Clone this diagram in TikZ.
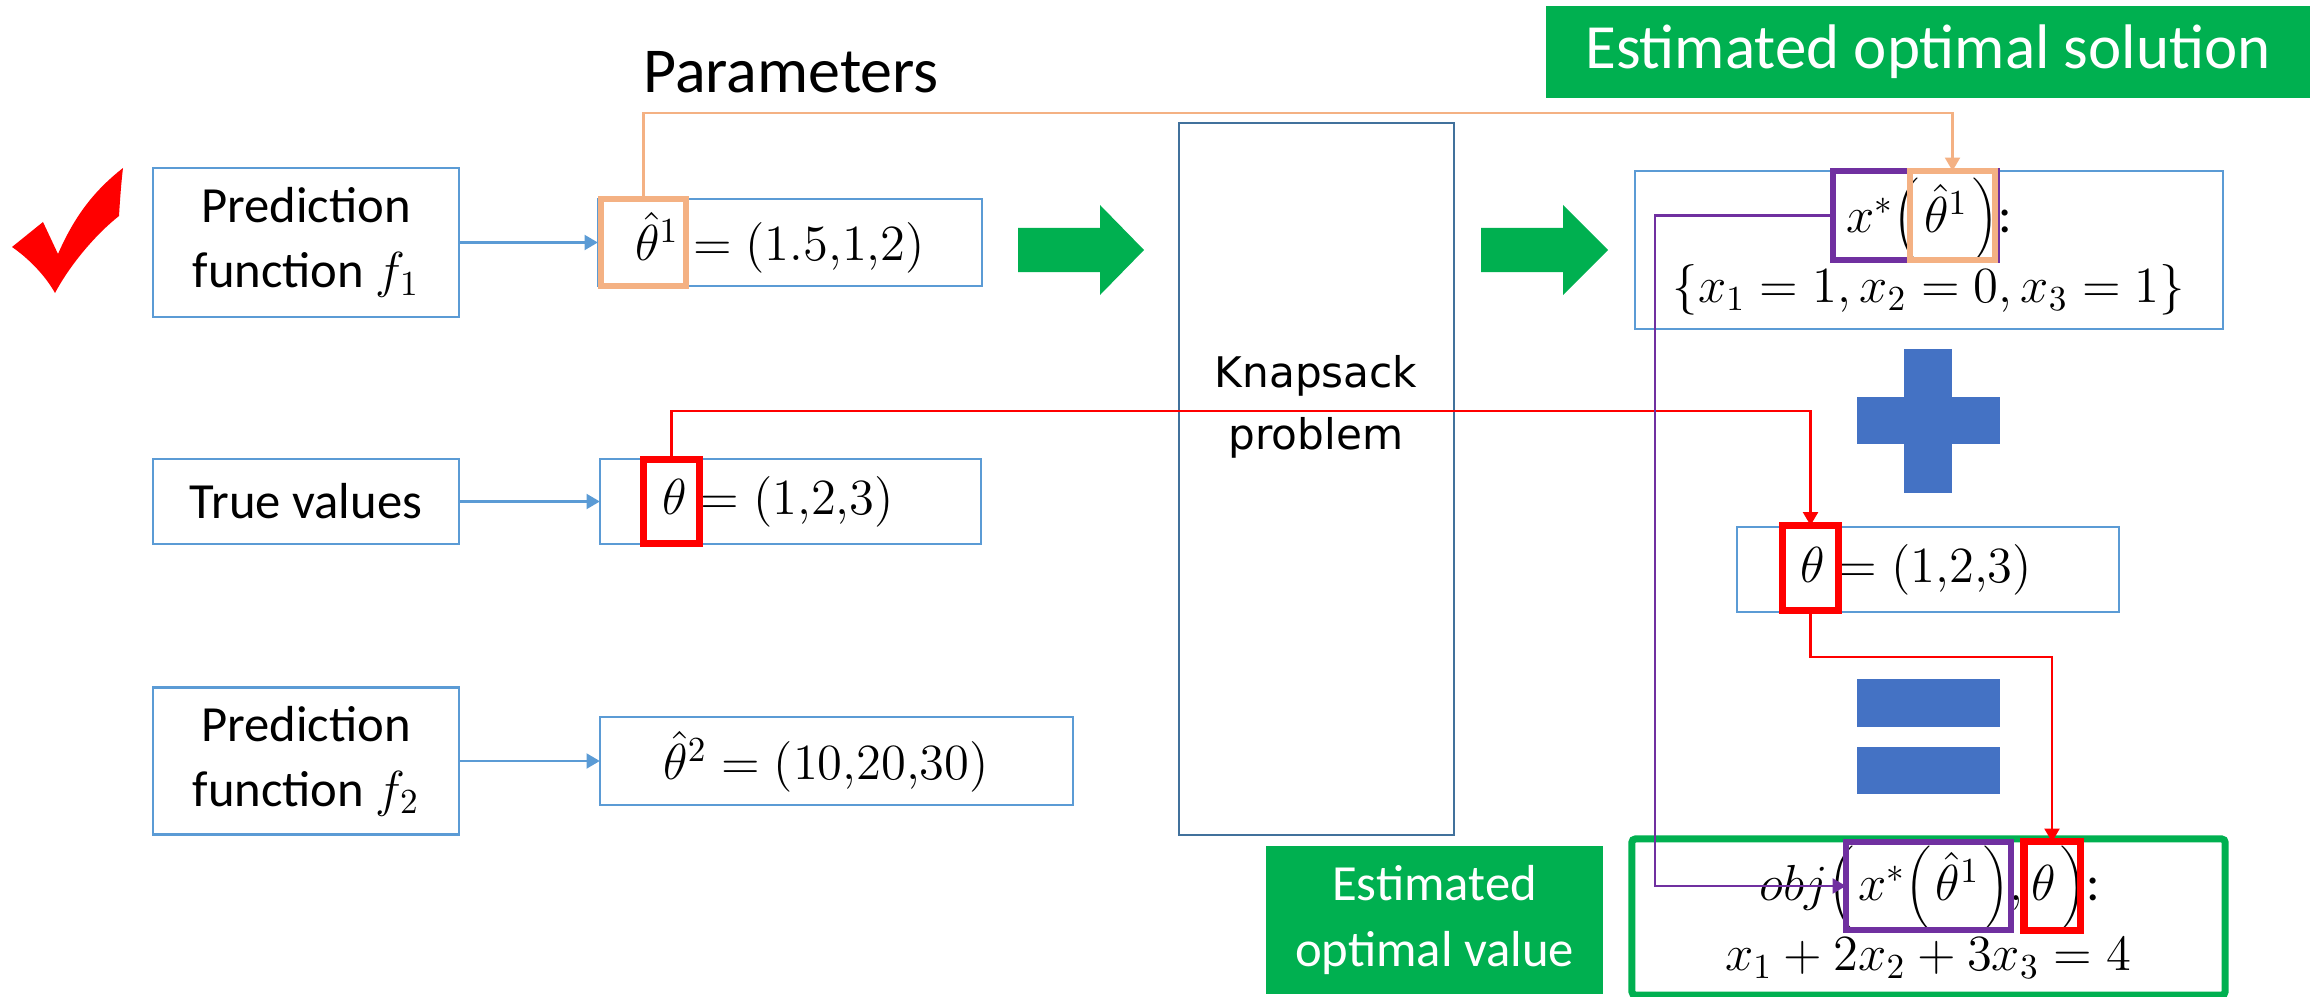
\documentclass[tikz,border=0pt]{standalone}
\usepackage[no-math]{fontspec}
\setmainfont{Carlito}
\newfontfamily\knapfont{DejaVu Sans}
\usetikzlibrary{arrows.meta}

\definecolor{boxblue}{HTML}{5B9BD5}
\definecolor{knapblue}{HTML}{41719C}
\definecolor{offgreen}{HTML}{00B050}
\definecolor{symblue}{HTML}{4472C4}
\definecolor{hlorange}{HTML}{F4B183}
\definecolor{hlpurple}{HTML}{7030A0}
\definecolor{hlred}{HTML}{FF0000}

% parentheses tall enough to enclose \hat\theta^1, spaced like ordinary ones
\newcommand\hopen{\mathopen{\left(\vphantom{\hat{\theta}^1}\right.}}
\newcommand\hclose{\mathclose{\left.\vphantom{\hat{\theta}^1}\right)}}

\begin{document}
\begin{tikzpicture}[x=0.01cm,y=-0.01cm,
  bluebox/.style={draw=boxblue,line width=0.7pt,inner sep=0pt,outer sep=0pt},
  txt/.style={font=\fontsize{14.4}{18.5}\selectfont,align=center,inner sep=0pt},
  hl/.style={line width=1.8pt,inner sep=0pt,outer sep=0pt},
  tip/.style={-{Triangle[length=3.8pt,width=4.2pt]}},
  bluearrow/.style={tip,draw=boxblue,line width=0.8pt},
  conn/.style={tip,line width=0.8pt},
  bigarrow/.style={fill=offgreen,draw=none},
  symbol/.style={fill=symblue,draw=none},
  greenlabel/.style={fill=offgreen,text=white,inner sep=0pt,outer sep=0pt,align=center}]

\useasboundingbox (0,0) rectangle (2318,997);

% check mark
\fill[hlred] (12,247) -- (43,222) -- (58,254)
  .. controls (75,215) and (95,190) .. (123,168)
  .. controls (121,185) and (120,200) .. (119,216)
  .. controls (95,235) and (70,265) .. (55,293)
  .. controls (45,275) and (28,258) .. (12,247) -- cycle;

% left column
\node[bluebox,txt,minimum width=3.06cm,minimum height=1.49cm] (pf1) at (306,242.5) {Prediction\\function $f_1$};
\node[bluebox,txt,minimum width=3.06cm,minimum height=0.85cm] (tv) at (306,501.5) {True values};
\node[bluebox,txt,minimum width=3.06cm,minimum height=1.47cm] (pf2) at (306,761) {Prediction\\function $f_2$};

% parameter boxes
\node[bluebox,minimum width=3.84cm,minimum height=0.87cm] (th1box) at (790,242.5) {};
\node[bluebox,minimum width=3.81cm,minimum height=0.85cm] (thbox) at (790.5,501.5) {};
\node[bluebox,minimum width=4.73cm,minimum height=0.88cm] (th2box) at (836.5,761) {};
\node[txt] (th1txt) at (780,243) {$\hat{\theta}^1 = (1.5{,}1{,}2)$};
\node[txt] (thtxt) at (778,502) {$\theta = (1{,}2{,}3)$};
\node[txt] (th2txt) at (826,762) {$\hat{\theta}^2 = (10{,}20{,}30)$};

\node[font=\fontsize{18.2}{21}\selectfont,anchor=base,inner sep=0pt] (par) at (791,93) {Parameters};

% knapsack solver
\node[draw=knapblue,line width=0.7pt,inner sep=0pt,outer sep=0pt,minimum width=2.75cm,minimum height=7.12cm] (knap) at (1316.5,479) {};
\node[font=\knapfont\fontsize{12}{17.6}\selectfont,align=center,inner sep=0pt] (knaptxt) at (1316,407) {Knapsack\\problem};

% block arrows
\fill[bigarrow] (1018,228) -- (1100,228) -- (1100,205) -- (1144,250) -- (1100,295) -- (1100,272) -- (1018,272) -- cycle;
\fill[bigarrow] (1481,228) -- (1563,228) -- (1563,205) -- (1608,250) -- (1563,295) -- (1563,272) -- (1481,272) -- cycle;

% right column
\node[greenlabel,font=\fontsize{17.9}{21}\selectfont,minimum width=7.64cm,minimum height=0.92cm] (title) at (1928,52) {Estimated optimal solution};
\node[bluebox,minimum width=5.88cm,minimum height=1.58cm] (sol) at (1929,250) {};
\node[txt] (sol1) at (1929,220) {$x^*\hopen\hat{\theta}^1\hclose$:};
\node[txt] (sol2) at (1929,290) {$\{x_1 = 1, x_2 = 0, x_3 = 1\}$};

\fill[symbol] (1904,349) rectangle (1952,493);
\fill[symbol] (1857,397) rectangle (2000,444);

\node[bluebox,minimum width=3.82cm,minimum height=0.85cm] (th3box) at (1928,569.5) {};
\node[txt] (th3txt) at (1916,570) {$\theta = (1{,}2{,}3)$};

\fill[symbol] (1857,679) rectangle (2000,727);
\fill[symbol] (1857,747) rectangle (2000,794);

\node[greenlabel,txt,text=white,fill=offgreen,minimum width=3.37cm,minimum height=1.48cm] (eov) at (1434.5,920) {Estimated\\optimal value};
\node[draw=offgreen,line width=2pt,inner sep=0pt,outer sep=0pt,rounded corners=1pt,minimum width=5.93cm,minimum height=1.56cm] (obj) at (1928.5,917) {};
\node[txt] (obj1) at (1930,888) {$obj\hopen x^*\hopen\hat{\theta}^1\hclose,\theta\hclose$:};
\node[txt] (obj2) at (1928,958) {$x_1 + 2x_2 + 3x_3 = 4$};

% highlight frames
\node[hl,draw=hlorange,line width=1.6pt,minimum width=0.855cm,minimum height=0.875cm] (o1) at (643.5,242.5) {};
\node[hl,draw=hlred,line width=2pt,minimum width=0.56cm,minimum height=0.84cm] (r1) at (671.5,501.5) {};
\node[hl,draw=hlpurple,minimum width=1.64cm,minimum height=0.89cm] (p1) at (1915,215.5) {};
\node[hl,draw=hlorange,minimum width=0.85cm,minimum height=0.89cm] (o2) at (1952.5,215.5) {};
\node[hl,draw=hlred,line width=2pt,minimum width=0.56cm,minimum height=0.85cm] (r2) at (1810.5,568) {};
\node[hl,draw=hlpurple,minimum width=1.65cm,minimum height=0.88cm] (p2) at (1928.5,886) {};
\node[hl,draw=hlred,line width=2pt,minimum width=0.56cm,minimum height=0.88cm] (r3) at (2052,886) {};

% bend levels of the routed connectors
\coordinate (otop) at (0,113);
\coordinate (rtop) at (0,411);
\coordinate (rmid) at (0,657);
\coordinate (pcol) at (1655,0);

% connectors
\draw[bluearrow] (pf1.east) -- (th1box.west);
\draw[bluearrow] (tv.east) -- (thbox.west);
\draw[bluearrow] (pf2.east) -- (th2box.west);
\draw[conn,draw=hlorange] (o1.north) -- (o1.north |- otop) -| (o2.north);
\draw[conn,draw=hlred] (r1.north) -- (r1.north |- rtop) -| (r2.north);
\draw[conn,draw=hlred] (r2.south) -- (r2.south |- rmid) -| (r3.north);
\draw[conn,draw=hlpurple] (p1.west) -- (p1.west -| pcol) |- (p2.west);
\end{tikzpicture}
\end{document}
